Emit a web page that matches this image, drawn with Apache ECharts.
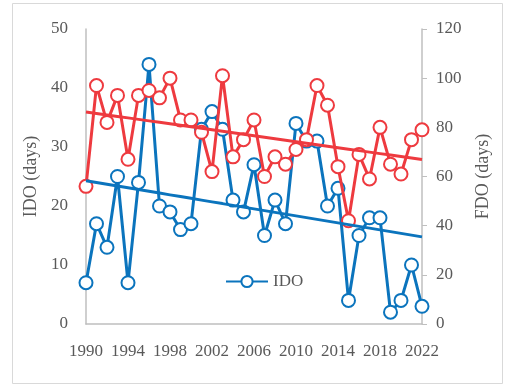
<!DOCTYPE html>
<html>
<head>
<meta charset="utf-8">
<script src="https://cdn.jsdelivr.net/npm/echarts@6/dist/echarts.min.js"></script>
<style>
html,body{margin:0;padding:0;background:#fff;}
#main{width:510px;height:385px;}
</style>
</head>
<body>
<div id="main"></div>
<script>
var years = [];
for (var y = 1990; y <= 2022; y++) years.push(String(y));
var ido = [7,17,13,25,7,24,44,20,19,16,17,33,36,33,21,19,27,15,21,17,34,31,31,20,23,4,15,18,18,2,4,10,3];
var fdo = [56,97,82,93,67,93,95,92,100,83,83,78,62,101,68,75,83,60,68,65,71,75,97,89,64,42,69,59,80,65,61,75,79];
var leftTicks = [0,10,20,30,40,50];
var rightTicks = [0,20,40,60,80,100,120];

function trend(arr){
  var n = arr.length, sx=0, sy=0, sxx=0, sxy=0;
  for (var i=0;i<n;i++){ sx+=i; sy+=arr[i]; sxx+=i*i; sxy+=i*arr[i]; }
  var b = (n*sxy - sx*sy)/(n*sxx - sx*sx);
  var a = (sy - b*sx)/n;
  var out=[]; for (var j=0;j<n;j++) out.push(+(a+b*j).toFixed(3));
  return out;
}

var BLUE = '#0B74BD', RED = '#EE3A3F', GRAY = '#595959', AX = '#BFBFBF';
var FONT = '"Liberation Serif","Times New Roman",serif';

var chart = echarts.init(document.getElementById('main'), null, {renderer:'canvas'});
chart.setOption({
  animation:false,
  backgroundColor:'#fff',
  graphic:[{type:'rect', shape:{x:12.5,y:3.5,width:490,height:380}, style:{fill:'none',stroke:'#D9D9D9',lineWidth:1}, silent:true, z:-1}],
  grid:{left:86,right:88,top:29,bottom:61},
  legend:{
    data:['IDO'], left:220, top:268, itemWidth:42, itemHeight:14, itemGap:4,
    textStyle:{fontFamily:FONT,fontSize:17,color:GRAY}
  },
  xAxis:{
    type:'category', data:years, boundaryGap:false,
    axisLine:{lineStyle:{color:AX,width:1.5}}, axisTick:{show:false},
    axisLabel:{interval:3, fontFamily:FONT, fontSize:17, color:GRAY, margin:19}
  },
  yAxis:[{
    type:'value', min:0, max:50, interval:10, name:'IDO (days)', nameLocation:'middle', nameGap:44,
    nameTextStyle:{fontFamily:FONT,fontSize:18,color:GRAY},
    axisLine:{show:true,lineStyle:{color:AX,width:1.5}}, axisTick:{show:false}, splitLine:{show:false},
    axisLabel:{fontFamily:FONT,fontSize:17,color:GRAY,margin:18}
  },{
    type:'value', min:0, max:120, interval:20, name:'FDO (days)', nameLocation:'middle', nameGap:52, nameRotate:90,
    nameTextStyle:{fontFamily:FONT,fontSize:18,color:GRAY},
    axisLine:{show:true,lineStyle:{color:AX,width:1.5}}, axisTick:{show:true,length:5,lineStyle:{color:AX}}, splitLine:{show:false},
    axisLabel:{fontFamily:FONT,fontSize:17,color:GRAY,margin:14}
  }],
  series:[
    {name:'IDO', type:'line', data:ido, yAxisIndex:0, color:BLUE, showAllSymbol:true,
     lineStyle:{color:BLUE,width:3}, symbol:'circle', symbolSize:13,
     itemStyle:{color:'#fff',borderColor:BLUE,borderWidth:2}, z:2},
    {name:'FDO', type:'line', data:fdo, yAxisIndex:1, color:RED, showAllSymbol:true,
     lineStyle:{color:RED,width:3}, symbol:'circle', symbolSize:13,
     itemStyle:{color:'#fff',borderColor:RED,borderWidth:2}, z:3},
    {name:'IDO trend', type:'line', data:trend(ido), yAxisIndex:0, showSymbol:false, symbol:'none',
     lineStyle:{color:BLUE,width:3}, z:4, silent:true},
    {name:'FDO trend', type:'line', data:trend(fdo), yAxisIndex:1, showSymbol:false, symbol:'none',
     lineStyle:{color:RED,width:3}, z:4, silent:true}
  ]
});
</script>
</body>
</html>
